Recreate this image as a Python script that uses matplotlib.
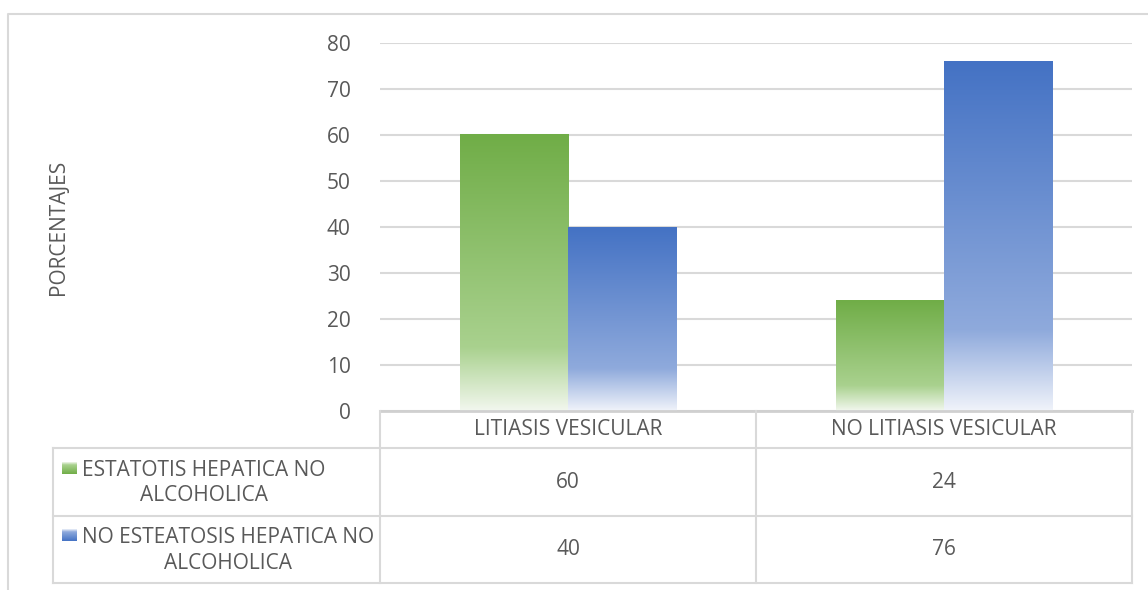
import numpy as np
import matplotlib.pyplot as plt
from matplotlib.colors import LinearSegmentedColormap

plt.rcParams['font.family'] = ['Open Sans', 'DejaVu Sans']

categories = ['LITIASIS VESICULAR', 'NO LITIASIS VESICULAR']
series_names = ['ESTATOTIS HEPATICA NO\nALCOHOLICA',
                'NO ESTEATOSIS HEPATICA NO\nALCOHOLICA']
values = [[60, 24],   # estatosis
          [40, 76]]   # no estatosis
y_ticks = [0, 10, 20, 30, 40, 50, 60, 70, 80]
y_label = 'PORCENTAJES'

TEXT = '#595959'
GRID = '#d9d9d9'
FS = 15

# gradient stops: bottom colour, mid colour (~77% down), top colour
green = LinearSegmentedColormap.from_list(
    'g', [(0, '#f2f7ee'), (0.23, '#a9d18e'), (1, '#70ad47')])
blue = LinearSegmentedColormap.from_list(
    'b', [(0, '#f0f3fa'), (0.23, '#8faadc'), (1, '#4472c4')])
cmaps = [green, blue]

W, H = 1148, 590
fig = plt.figure(figsize=(W / 100, H / 100), dpi=100)


def px_axes(x0, y0, x1, y1):
    # axes placed by pixel box (top-left origin)
    return fig.add_axes([x0 / W, 1 - y1 / H, (x1 - x0) / W, (y1 - y0) / H])


# chart border
border = fig.add_axes([0, 0, 1, 1], zorder=-5)
border.set_xlim(0, W)
border.set_ylim(H, 0)
border.axis('off')
border.plot([8, 8, W], [H, 14, 14], color=GRID, lw=1.5)

# plot area
ax = px_axes(380, 43, 1132, 411)
ax.set_yticks(y_ticks)
ax.tick_params(axis='y', length=0, labelsize=FS, labelcolor=TEXT, pad=21)
ax.tick_params(axis='x', length=0, labelbottom=False)
for s in ax.spines.values():
    s.set_visible(False)
ax.grid(axis='y', color=GRID, lw=1.5)
ax.set_axisbelow(True)

bar_w = 0.288
grad = np.linspace(0, 1, 256).reshape(-1, 1)
for si, row in enumerate(values):
    for ci, v in enumerate(row):
        x0 = ci - bar_w + si * bar_w
        ax.imshow(grad, cmap=cmaps[si], origin='lower', aspect='auto',
                  extent=[x0, x0 + bar_w, 0, v], zorder=2, interpolation='bilinear')
ax.set_xlim(-0.5, len(categories) - 0.5)
ax.set_ylim(0, 80)

fig.text(58 / W, 1 - 227 / H, y_label, rotation=90, ha='center', va='center',
         fontsize=FS, color=TEXT)

# data table below the plot
tb = fig.add_axes([0, 0, 1, 1], zorder=3)
tb.axis('off')
tb.patch.set_alpha(0)

col_l, col_w = 380, 376
row_y = [411, 448, 516, 583]
lab_l = 53
right = col_l + col_w * len(categories)
lw = 1.5
tb.plot([col_l, right], [row_y[0]] * 2, color='#d0d0d0', lw=2)
for y in row_y[1:]:
    tb.plot([lab_l, right], [y, y], color=GRID, lw=lw)
for i in range(len(categories) + 1):
    tb.plot([col_l + i * col_w] * 2, [row_y[0], row_y[-1]], color=GRID, lw=lw)
tb.plot([lab_l, lab_l], [row_y[1], row_y[-1]], color=GRID, lw=lw)

for ci, cat in enumerate(categories):
    cx = col_l + col_w * (ci + 0.5)
    tb.text(cx, (row_y[0] + row_y[1]) / 2, cat, ha='center', va='center',
            fontsize=FS, color=TEXT)

for si, name in enumerate(series_names):
    cy = (row_y[si + 1] + row_y[si + 2]) / 2
    tb.text(82, cy + 1, name, ha='left', va='center', multialignment='center',
            fontsize=FS, color=TEXT, linespacing=1.3)
    tb.imshow(grad, cmap=cmaps[si], origin='upper', aspect='auto',
              extent=[62, 77, cy - 8, cy - 20], interpolation='bilinear')
    for ci, v in enumerate(values[si]):
        cx = col_l + col_w * (ci + 0.5)
        tb.text(cx, cy, str(v), ha='center', va='center', fontsize=FS, color=TEXT)
tb.set_xlim(0, W)
tb.set_ylim(H, 0)

fig.savefig('out.png', dpi=100)
